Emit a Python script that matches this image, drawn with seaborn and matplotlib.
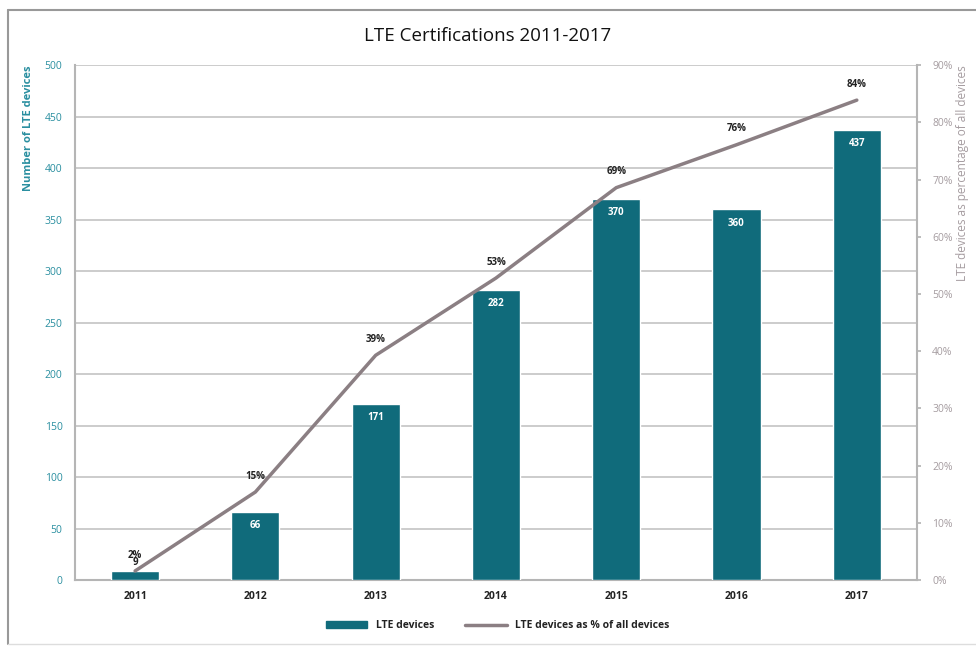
import pandas as pd
import matplotlib.pyplot as plt
import matplotlib.patches as mpatches
from matplotlib.lines import Line2D
import seaborn as sns
import numpy as np

# datos
years = ['2011', '2012', '2013', '2014', '2015', '2016', '2017']
lte_devices = [9, 66, 171, 282, 370, 360, 437]
lte_pct = [1.6, 15.4, 39.3, 52.8, 68.6, 76.1, 83.9]

bar_color = '#106b7b'
line_color = '#8b7f83'
teal_text = '#2a8fa0'
grey_text = '#a59ca0'

sns.set_theme(style='white')
plt.rcParams['font.family'] = ['Open Sans', 'DejaVu Sans']

dt = pd.DataFrame({'year': years, 'devices': lte_devices, 'pct': lte_pct})

fig = plt.figure(figsize=(9.76, 6.46), dpi=100)
ax = fig.add_axes([0.0768, 0.102, 0.8627, 0.797])

sns.barplot(data=dt, x='year', y='devices', color=bar_color, width=0.4,
            saturation=1, ax=ax, zorder=3)
ax.set_ylim(0, 500)
ax.set_xlim(-0.5, 6.5)
ax.set_yticks(np.arange(0, 501, 50))
ax.yaxis.grid(True, color='#c4c4c4', linewidth=1.2, zorder=0)
ax.set_axisbelow(True)
ax.set_xlabel('')
ax.set_ylabel('')
ax.tick_params(axis='y', colors=teal_text, labelsize=7.5, length=0, pad=9)
ax.tick_params(axis='x', colors='#222222', labelsize=7.5, length=0, pad=8)
for lab in ax.get_xticklabels():
    lab.set_fontweight('bold')
for lab in ax.get_yticklabels():
    lab.set_color(teal_text)
for s in ['top', 'right']:
    ax.spines[s].set_visible(False)
for s in ['left', 'bottom']:
    ax.spines[s].set_color('#b5b5b5')
    ax.spines[s].set_linewidth(1.5)

# etiquetas de las barras
for i, v in enumerate(lte_devices):
    if v < 30:
        ax.text(i, v + 3, str(v), ha='center', va='bottom', fontsize=7,
                fontweight='bold', color='#222222', zorder=5)
    else:
        ax.text(i, v - 8, str(v), ha='center', va='top', fontsize=7,
                fontweight='bold', color='white', zorder=5)

ax2 = ax.twinx()
sns.lineplot(x=np.arange(len(years)), y=lte_pct, color=line_color,
             linewidth=2.5, ax=ax2, zorder=4)
ax2.set_ylim(0, 90)
ax2.set_xlim(-0.5, 6.5)
ax2.set_yticks(np.arange(0, 91, 10))
ax2.set_yticklabels([f'{t}%' for t in range(0, 91, 10)])
ax2.tick_params(axis='y', colors=grey_text, labelsize=7.5, length=3,
                direction='out', pad=8)
for lab in ax2.get_yticklabels():
    lab.set_color(grey_text)
ax2.tick_params(axis='y', color='#b5b5b5')
for s in ['top', 'left', 'bottom']:
    ax2.spines[s].set_visible(False)
ax2.spines['right'].set_color('#b5b5b5')
ax2.spines['right'].set_linewidth(1.5)
ax2.set_ylabel('')

for i, p in enumerate(lte_pct):
    ax2.text(i, p + 1.8, f'{p:.0f}%', ha='center', va='bottom', fontsize=7,
             fontweight='bold', color='#222222', zorder=5)

fig.text(0.5, 0.945, 'LTE Certifications 2011-2017', ha='center', va='center',
         fontsize=13.5, color='#111111')
fig.text(0.029, 0.899, 'Number of LTE devices', rotation=90, ha='center',
         va='top', fontsize=8, fontweight='bold', color=teal_text)
fig.text(0.986, 0.899, 'LTE devices as percentage of all devices', rotation=90,
         ha='center', va='top', fontsize=8.5, color=grey_text)

handles = [mpatches.Patch(color=bar_color, label='LTE devices'),
           Line2D([0], [0], color=line_color, linewidth=2.5,
                  label='LTE devices as % of all devices')]
leg = fig.legend(handles=handles, loc='center', bbox_to_anchor=(0.51, 0.031),
                 ncol=2, frameon=False, fontsize=7.5, handlelength=4,
                 columnspacing=3, handleheight=0.6)
for t in leg.get_texts():
    t.set_fontweight('bold')
    t.set_color('#222222')

# marco exterior
fig.add_artist(Line2D([0.008, 0.008], [0.003, 0.985], color='#999999',
                      linewidth=1.5, transform=fig.transFigure))
fig.add_artist(Line2D([0.008, 1.0], [0.985, 0.985], color='#999999',
                      linewidth=1.5, transform=fig.transFigure))
fig.add_artist(Line2D([0.008, 1.0], [0.003, 0.003], color='#dddddd',
                      linewidth=1, transform=fig.transFigure))

plt.savefig('out.png', dpi=100)
